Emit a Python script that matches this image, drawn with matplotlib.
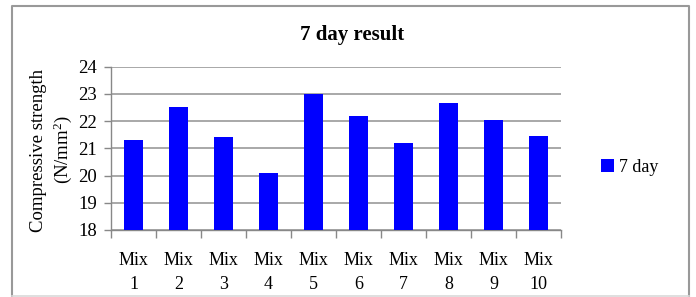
import matplotlib
matplotlib.use("Agg")
import matplotlib.pyplot as plt
from matplotlib.lines import Line2D
import numpy as np

plt.rcParams['font.family'] = ['Liberation Serif', 'DejaVu Serif']
plt.rcParams['mathtext.fontset'] = 'custom'
plt.rcParams['mathtext.rm'] = 'Liberation Serif'
plt.rcParams['mathtext.it'] = 'Liberation Serif:italic'

# data
mixes = ["Mix\n1", "Mix\n2", "Mix\n3", "Mix\n4", "Mix\n5",
         "Mix\n6", "Mix\n7", "Mix\n8", "Mix\n9", "Mix\n10"]
strength_7day = [21.31, 22.52, 21.42, 20.10, 23.00, 22.19, 21.20, 22.67, 22.04, 21.46]
y_ticks = [18, 19, 20, 21, 22, 23, 24]

W, H = 696, 297
fig = plt.figure(figsize=(W / 100, H / 100), dpi=100)
ax = fig.add_axes([111 / W, 1 - 230 / H, 450 / W, 163.5 / H])

x = np.arange(len(mixes))
ax.bar(x, strength_7day, width=0.42, color="#0000ff", label="7 day", zorder=3)

ax.set_xlim(-0.5, len(mixes) - 0.5)
ax.set_ylim(y_ticks[0], y_ticks[-1])
ax.set_yticks(y_ticks)
ax.yaxis.grid(True, color="#999999", linewidth=1.2, zorder=0)

# category labels at centres, tick marks at the boundaries
ax.set_xticks(x)
ax.set_xticklabels(mixes, fontsize=13, linespacing=1.5)
ax.tick_params(axis="x", which="major", length=0, pad=16)
ax.set_xticks(np.arange(len(mixes) + 1) - 0.5, minor=True)
ax.tick_params(axis="x", which="minor", length=6, color="#888888", width=1)
ax.tick_params(axis="y", length=5, color="#888888", width=1, pad=5, labelsize=13.5)

for s in ["top", "right"]:
    ax.spines[s].set_visible(False)
for s in ["left", "bottom"]:
    ax.spines[s].set_color("#888888")
    ax.spines[s].set_linewidth(1)

fig.text(352 / W, 1 - 35 / H, "7 day result", ha="center", va="center",
         fontsize=15, fontweight="bold")
fig.text(52 / W, 1 - 150 / H, "Compressive strength\n(N/mm$^2$)", rotation=90,
         ha="center", va="center", multialignment="center", fontsize=13.5,
         linespacing=1.3)

ax.legend(loc="center left", bbox_to_anchor=(601 / W, 1 - 167 / H),
          bbox_transform=fig.transFigure, frameon=False, fontsize=13,
          handlelength=0.7, handleheight=0.7, handletextpad=0.3,
          borderpad=0, borderaxespad=0)

# outer chart border
bl, br, bt, bb = 12 / W, 689 / W, 1 - 5.5 / H, 1 - 296 / H
fig.add_artist(Line2D([bl, bl, br, br], [bb, bt, bt, bb], transform=fig.transFigure,
                      color="#999999", linewidth=1.5))
fig.add_artist(Line2D([bl, br], [bb, bb], transform=fig.transFigure,
                      color="#d9d9d9", linewidth=1.2))

fig.savefig("out.png", dpi=100)
